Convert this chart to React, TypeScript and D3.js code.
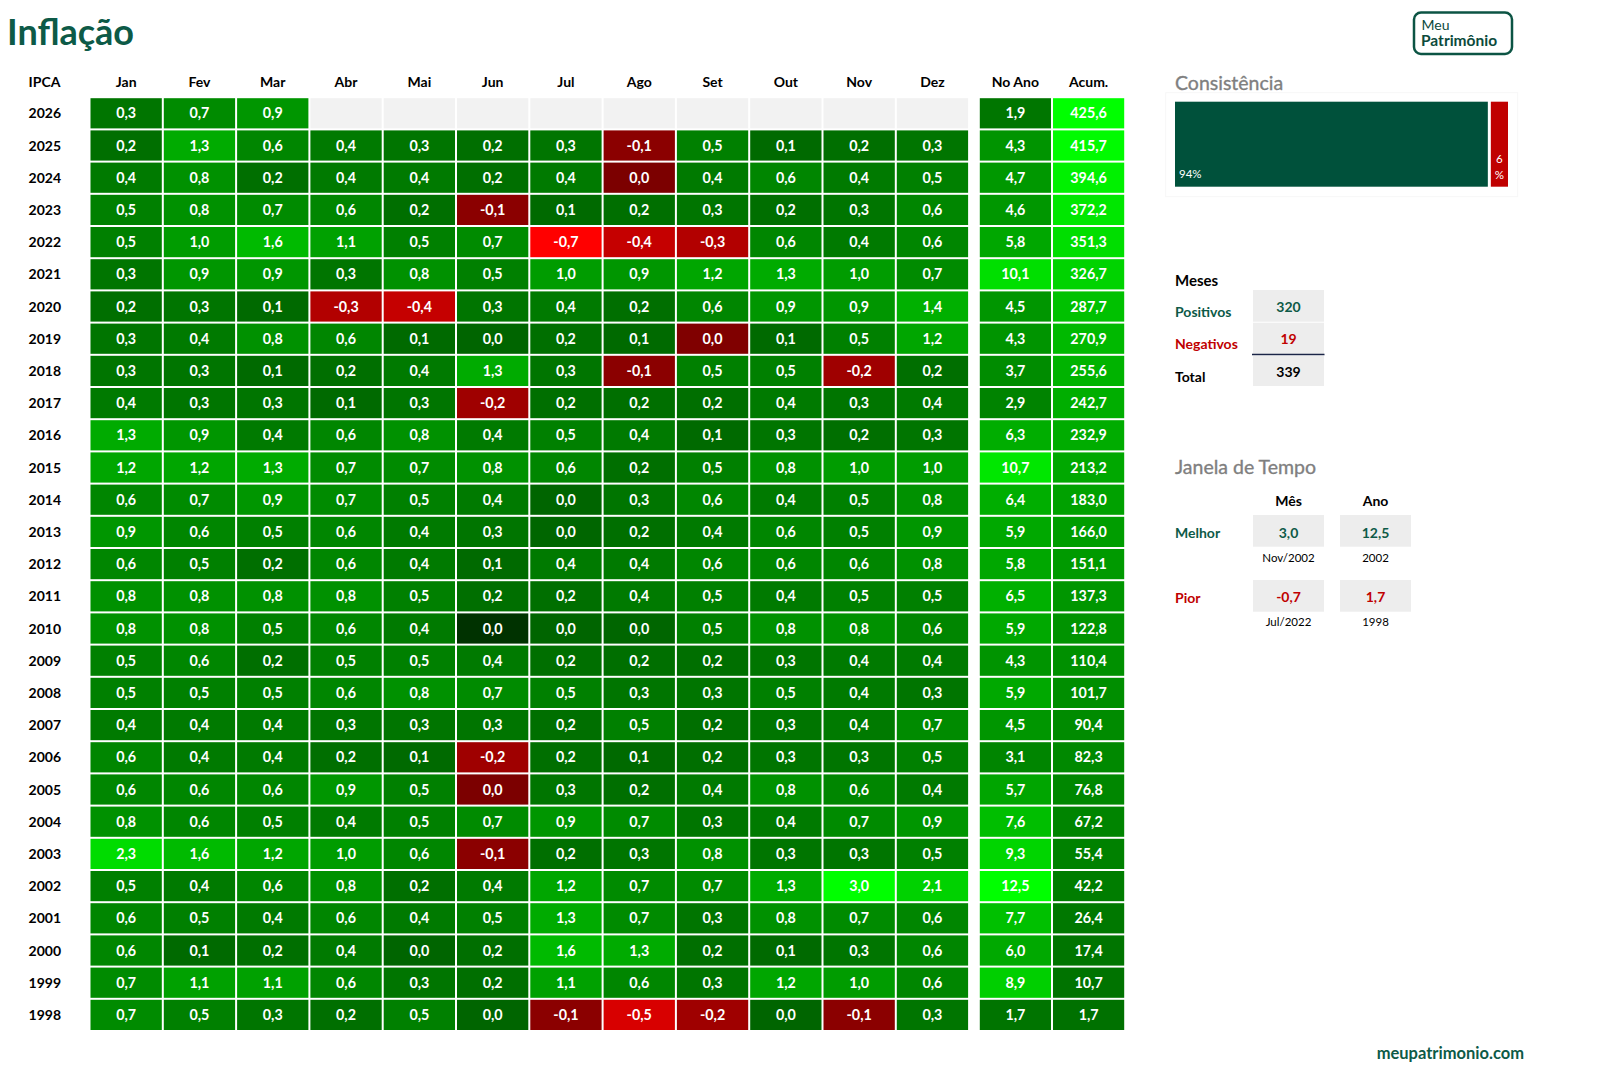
import React from "react";
import * as d3 from "d3";

const MONTHS = ["Jan", "Fev", "Mar", "Abr", "Mai", "Jun", "Jul", "Ago", "Set", "Out", "Nov", "Dez"];
const EXTRA_COLS = ["No Ano", "Acum."];
const YEARS = [2026, 2025, 2024, 2023, 2022, 2021, 2020, 2019, 2018, 2017, 2016, 2015, 2014, 2013, 2012, 2011, 2010, 2009, 2008, 2007, 2006, 2005, 2004, 2003, 2002, 2001, 2000, 1999, 1998];

// monthly IPCA (%), one row per year, null = not yet published
const MONTHLY: (number | null)[][] = [
  [0.3, 0.7, 0.9, null, null, null, null, null, null, null, null, null],
  [0.2, 1.3, 0.6, 0.4, 0.3, 0.2, 0.3, -0.1, 0.5, 0.1, 0.2, 0.3],
  [0.4, 0.8, 0.2, 0.4, 0.4, 0.2, 0.4, -0.02, 0.4, 0.6, 0.4, 0.5],
  [0.5, 0.8, 0.7, 0.6, 0.2, -0.1, 0.1, 0.2, 0.3, 0.2, 0.3, 0.6],
  [0.5, 1.0, 1.6, 1.1, 0.5, 0.7, -0.7, -0.4, -0.3, 0.6, 0.4, 0.6],
  [0.3, 0.9, 0.9, 0.3, 0.8, 0.5, 1.0, 0.9, 1.2, 1.3, 1.0, 0.7],
  [0.2, 0.3, 0.1, -0.3, -0.4, 0.3, 0.4, 0.2, 0.6, 0.9, 0.9, 1.4],
  [0.3, 0.4, 0.8, 0.6, 0.1, 0.01, 0.2, 0.1, -0.04, 0.1, 0.5, 1.2],
  [0.3, 0.3, 0.1, 0.2, 0.4, 1.3, 0.3, -0.1, 0.5, 0.5, -0.2, 0.2],
  [0.4, 0.3, 0.3, 0.1, 0.3, -0.2, 0.2, 0.2, 0.2, 0.4, 0.3, 0.4],
  [1.3, 0.9, 0.4, 0.6, 0.8, 0.4, 0.5, 0.4, 0.1, 0.3, 0.2, 0.3],
  [1.2, 1.2, 1.3, 0.7, 0.7, 0.8, 0.6, 0.2, 0.5, 0.8, 1.0, 1.0],
  [0.6, 0.7, 0.9, 0.7, 0.5, 0.4, 0.01, 0.3, 0.6, 0.4, 0.5, 0.8],
  [0.9, 0.6, 0.5, 0.6, 0.4, 0.3, 0.03, 0.2, 0.4, 0.6, 0.5, 0.9],
  [0.6, 0.5, 0.2, 0.6, 0.4, 0.1, 0.4, 0.4, 0.6, 0.6, 0.6, 0.8],
  [0.8, 0.8, 0.8, 0.8, 0.5, 0.2, 0.2, 0.4, 0.5, 0.4, 0.5, 0.5],
  [0.8, 0.8, 0.5, 0.6, 0.4, 0.0, 0.01, 0.04, 0.5, 0.8, 0.8, 0.6],
  [0.5, 0.6, 0.2, 0.5, 0.5, 0.4, 0.2, 0.2, 0.2, 0.3, 0.4, 0.4],
  [0.5, 0.5, 0.5, 0.6, 0.8, 0.7, 0.5, 0.3, 0.3, 0.5, 0.4, 0.3],
  [0.4, 0.4, 0.4, 0.3, 0.3, 0.3, 0.2, 0.5, 0.2, 0.3, 0.4, 0.7],
  [0.6, 0.4, 0.4, 0.2, 0.1, -0.2, 0.2, 0.1, 0.2, 0.3, 0.3, 0.5],
  [0.6, 0.6, 0.6, 0.9, 0.5, -0.02, 0.3, 0.2, 0.4, 0.8, 0.6, 0.4],
  [0.8, 0.6, 0.5, 0.4, 0.5, 0.7, 0.9, 0.7, 0.3, 0.4, 0.7, 0.9],
  [2.3, 1.6, 1.2, 1.0, 0.6, -0.1, 0.2, 0.3, 0.8, 0.3, 0.3, 0.5],
  [0.5, 0.4, 0.6, 0.8, 0.2, 0.4, 1.2, 0.7, 0.7, 1.3, 3.0, 2.1],
  [0.6, 0.5, 0.4, 0.6, 0.4, 0.5, 1.3, 0.7, 0.3, 0.8, 0.7, 0.6],
  [0.6, 0.1, 0.2, 0.4, 0.01, 0.2, 1.6, 1.3, 0.2, 0.1, 0.3, 0.6],
  [0.7, 1.1, 1.1, 0.6, 0.3, 0.2, 1.1, 0.6, 0.3, 1.2, 1.0, 0.6],
  [0.7, 0.5, 0.3, 0.2, 0.5, 0.02, -0.1, -0.5, -0.2, 0.02, -0.1, 0.3],
];

const NO_ANO = [1.9, 4.3, 4.7, 4.6, 5.8, 10.1, 4.5, 4.3, 3.7, 2.9, 6.3, 10.7, 6.4, 5.9, 5.8, 6.5, 5.9, 4.3, 5.9, 4.5, 3.1, 5.7, 7.6, 9.3, 12.5, 7.7, 6.0, 8.9, 1.7];
const ACUM = [425.6, 415.7, 394.6, 372.2, 351.3, 326.7, 287.7, 270.9, 255.6, 242.7, 232.9, 213.2, 183.0, 166.0, 151.1, 137.3, 122.8, 110.4, 101.7, 90.4, 82.3, 76.8, 67.2, 55.4, 42.2, 26.4, 17.4, 10.7, 1.7];

const FONT = "Lato, 'Open Sans', 'Noto Sans', sans-serif";
const DARK_GREEN = "#0d5a47";
const RED = "#c00000";

const fmt = (v: number) => (Math.abs(v) < 0.05 ? "0,0" : v.toFixed(1).replace(".", ","));

const greenMonth = d3.scaleLinear<string>().domain([0, 0.5, 1, 3]).range(["#006400", "#008000", "#009c00", "#00ff00"]).clamp(true);
const redMonth = d3.scaleLinear<string>().domain([0, -0.7]).range(["#780000", "#ff0000"]).clamp(true);
const monthColor = (v: number) => (v === 0 ? "#003200" : v < 0 ? redMonth(v) : greenMonth(v));
const noAnoColor = d3.scaleLinear<string>().domain([1.7, 5, 12.5]).range(["#007400", "#009c00", "#00ff00"]).clamp(true);
const acumColor = d3.scaleLinear<string>().domain([0, 100, 250, 425.6]).range(["#007000", "#008e00", "#00b000", "#00ff00"]).clamp(true);

export default function App() {
  const W = 1600, H = 1085;
  const x = d3.scaleBand<string>().domain(MONTHS).range([89.5, 969.1]);
  const xe = d3.scaleBand<string>().domain(EXTRA_COLS).range([978.8, 1125.2]);
  const y = d3.scaleBand<string>().domain(YEARS.map(String)).range([97.2, 97.2 + YEARS.length * 32.2]);
  const bw = x.bandwidth();
  const bh = y.bandwidth();
  const g = 1; // half gap

  // stats
  const all: { v: number; year: number; m: number }[] = [];
  MONTHLY.forEach((row, i) => row.forEach((v, j) => { if (v !== null) all.push({ v, year: YEARS[i], m: j }); }));
  const positives = all.filter((d) => d.v >= 0).length;
  const negatives = all.filter((d) => d.v < 0).length;
  const total = all.length;
  const best = all.reduce((a, b) => (b.v > a.v ? b : a));
  const worst = all.reduce((a, b) => (b.v < a.v ? b : a));
  const fullYears = YEARS.map((yr, i) => ({ yr, v: NO_ANO[i], full: MONTHLY[i].every((v) => v !== null) })).filter((d) => d.full);
  const bestYear = fullYears.reduce((a, b) => (b.v > a.v ? b : a));
  const worstYear = fullYears.reduce((a, b) => (b.v < a.v ? b : a));

  const cx = d3.scaleLinear().domain([0, total]).range([1175, 1508]);
  const posPct = Math.round((positives / total) * 100);
  const negPct = 100 - posPct;

  const boxX1 = 1253, boxX2 = 1340, boxW = 71;
  const cellText = { fontSize: 14.3, fontWeight: "bold" as const, textAnchor: "middle" as const, fill: "#fff" };

  return (
    <svg width={W} height={H} style={{ position: "absolute", left: 0, top: 0, background: "#fff" }} fontFamily={FONT}>
      <rect x={0} y={0} width={W} height={H} fill="#fff" />
      <text x={7} y={45} fontSize={36} fontWeight="bold" fill={DARK_GREEN}>Inflação</text>

      {/* headers */}
      <text x={28.6} y={86.5} fontSize={14} fontWeight="bold" fill="#000">IPCA</text>
      {MONTHS.map((m) => (
        <text key={m} x={(x(m) as number) + bw / 2} y={86.5} fontSize={14} fontWeight="bold" textAnchor="middle" fill="#000">{m}</text>
      ))}
      {EXTRA_COLS.map((m) => (
        <text key={m} x={(xe(m) as number) + xe.bandwidth() / 2} y={86.5} fontSize={14} fontWeight="bold" textAnchor="middle" fill="#000">{m}</text>
      ))}

      {YEARS.map((yr, i) => {
        const y0 = y(String(yr)) as number;
        return (
          <g key={yr}>
            <text x={28.6} y={y0 + bh / 2 + 5} fontSize={14} fontWeight="bold" fill="#000">{yr}</text>
            {MONTHLY[i].map((v, j) => {
              const x0 = x(MONTHS[j]) as number;
              return (
                <g key={j}>
                  <rect x={x0 + g} y={y0 + g} width={bw - 2 * g} height={bh - 2 * g} fill={v === null ? "#f2f2f2" : monthColor(v)} />
                  {v !== null && (
                    <text x={x0 + bw / 2} y={y0 + bh / 2 + 5} {...cellText}>{fmt(v)}</text>
                  )}
                </g>
              );
            })}
            {[NO_ANO[i], ACUM[i]].map((v, k) => {
              const x0 = xe(EXTRA_COLS[k]) as number;
              return (
                <g key={"e" + k}>
                  <rect x={x0 + g} y={y0 + g} width={xe.bandwidth() - 2 * g} height={bh - 2 * g} fill={k === 0 ? noAnoColor(v) : acumColor(v)} />
                  <text x={x0 + xe.bandwidth() / 2} y={y0 + bh / 2 + 5} {...cellText}>{fmt(v)}</text>
                </g>
              );
            })}
          </g>
        );
      })}

      {/* logo */}
      <rect x={1414} y={12.5} width={98} height={41.5} rx={7} fill="#fff" stroke="#0c5444" strokeWidth={2.5} />
      <text x={1421.5} y={30} fontSize={14} fill="#0c4a3c">Meu</text>
      <text x={1421} y={46} fontSize={15.5} fontWeight="bold" fill="#0c4a3c">Patrimônio</text>

      {/* Consistência */}
      <text x={1175} y={90} fontSize={19.5} fill="#7f7f7f" stroke="#7f7f7f" strokeWidth={0.35}>Consistência</text>
      <rect x={1165.7} y={92.7} width={352} height={104} fill="#fff" stroke="#f7f7f7" strokeWidth={1} />
      <rect x={cx(0)} y={101.7} width={cx(positives) - cx(0) - 1.5} height={85} fill="#00513b" />
      <rect x={cx(positives) + 1.5} y={101.7} width={cx(total) - cx(positives) - 1.5} height={85} fill="#c00000" />
      <text x={1179} y={178} fontSize={11.5} fill="#fff">{posPct}%</text>
      <text x={(cx(positives) + cx(total)) / 2 + 0.7} y={163} fontSize={11.5} textAnchor="middle" fill="#fff">{negPct}</text>
      <text x={(cx(positives) + cx(total)) / 2 + 0.7} y={179} fontSize={11.5} textAnchor="middle" fill="#fff">%</text>

      {/* Meses */}
      <text x={1175} y={285.5} fontSize={15} fontWeight="bold" fill="#000">Meses</text>
      <text x={1175} y={317} fontSize={14} fontWeight="bold" fill={DARK_GREEN}>Positivos</text>
      <text x={1175} y={349} fontSize={14} fontWeight="bold" fill={RED}>Negativos</text>
      <text x={1175} y={381.5} fontSize={14} fontWeight="bold" fill="#000">Total</text>
      <rect x={boxX1} y={290} width={boxW} height={31.7} fill="#ededed" />
      <rect x={boxX1} y={322.7} width={boxW} height={31.6} fill="#ededed" />
      <rect x={boxX1} y={356} width={boxW} height={30} fill="#ededed" />
      <line x1={1252} x2={1324.5} y1={354.6} y2={354.6} stroke="#1b2547" strokeWidth={1.5} />
      <text x={boxX1 + boxW / 2} y={312} fontSize={14} fontWeight="bold" textAnchor="middle" fill={DARK_GREEN}>{positives}</text>
      <text x={boxX1 + boxW / 2} y={344} fontSize={14} fontWeight="bold" textAnchor="middle" fill={RED}>{negatives}</text>
      <text x={boxX1 + boxW / 2} y={376.5} fontSize={14} fontWeight="bold" textAnchor="middle" fill="#000">{total}</text>

      {/* Janela de Tempo */}
      <text x={1175} y={474} fontSize={19.5} fill="#7f7f7f" stroke="#7f7f7f" strokeWidth={0.35}>Janela de Tempo</text>
      <text x={boxX1 + boxW / 2} y={505.5} fontSize={14} fontWeight="bold" textAnchor="middle" fill="#000">Mês</text>
      <text x={boxX2 + boxW / 2} y={505.5} fontSize={14} fontWeight="bold" textAnchor="middle" fill="#000">Ano</text>

      <text x={1175} y={538} fontSize={14} fontWeight="bold" fill={DARK_GREEN}>Melhor</text>
      <rect x={boxX1} y={515} width={boxW} height={31.7} fill="#ededed" />
      <rect x={boxX2} y={515} width={boxW} height={31.7} fill="#ededed" />
      <text x={boxX1 + boxW / 2} y={537.5} fontSize={14} fontWeight="bold" textAnchor="middle" fill={DARK_GREEN}>{fmt(best.v)}</text>
      <text x={boxX2 + boxW / 2} y={537.5} fontSize={14} fontWeight="bold" textAnchor="middle" fill={DARK_GREEN}>{fmt(bestYear.v)}</text>
      <text x={boxX1 + boxW / 2} y={561.5} fontSize={11.5} textAnchor="middle" fill="#000">{MONTHS[best.m]}/{best.year}</text>
      <text x={boxX2 + boxW / 2} y={561.5} fontSize={11.5} textAnchor="middle" fill="#000">{bestYear.yr}</text>

      <text x={1175} y={602.5} fontSize={14} fontWeight="bold" fill={RED}>Pior</text>
      <rect x={boxX1} y={580} width={boxW} height={31.7} fill="#ededed" />
      <rect x={boxX2} y={580} width={boxW} height={31.7} fill="#ededed" />
      <text x={boxX1 + boxW / 2} y={602} fontSize={14} fontWeight="bold" textAnchor="middle" fill={RED}>{fmt(worst.v)}</text>
      <text x={boxX2 + boxW / 2} y={602} fontSize={14} fontWeight="bold" textAnchor="middle" fill={RED}>{fmt(worstYear.v)}</text>
      <text x={boxX1 + boxW / 2} y={626} fontSize={11.5} textAnchor="middle" fill="#000">{MONTHS[worst.m]}/{worst.year}</text>
      <text x={boxX2 + boxW / 2} y={626} fontSize={11.5} textAnchor="middle" fill="#000">{worstYear.yr}</text>

      <text x={1524} y={1058.5} fontSize={16.5} fontWeight="bold" textAnchor="end" fill={DARK_GREEN}>meupatrimonio.com</text>
    </svg>
  );
}
